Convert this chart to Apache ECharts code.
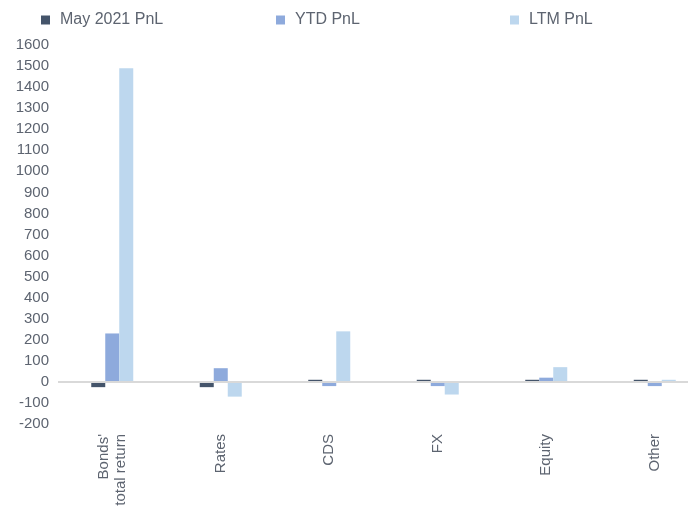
<!DOCTYPE html>
<html>
<head>
<meta charset="utf-8">
<script src="https://cdn.jsdelivr.net/npm/echarts@6/dist/echarts.min.js"></script>
<style>
  html, body { margin: 0; padding: 0; background: #fff; }
  #chart { width: 688px; height: 507px; }
</style>
</head>
<body>
<div id="chart"></div>
<script>
// categories and series
const categories = ["Bonds'\ntotal return", 'Rates', 'CDS', 'FX', 'Equity', 'Other'];
const mayPnl = [-25, -25, 10, 10, 10, 10];
const ytdPnl = [230, 65, -20, -20, 20, -20];
const ltmPnl = [1490, -70, 240, -60, 70, 10];
const seriesNames = ['May 2021 PnL', 'YTD PnL', 'LTM PnL'];
const colors = ['#44546a', '#8eaadc', '#bdd7ee'];

const textColor = '#5d6470';
const font = '"Liberation Sans", Arial, sans-serif';

const myChart = echarts.init(document.getElementById('chart'));

function legendAt(name, left) {
  return {
    data: [name],
    left: left,
    top: 7,
    itemWidth: 9,
    itemHeight: 9,
    icon: 'rect',
    itemGap: 0,
    textStyle: { color: textColor, fontSize: 16, fontFamily: font, padding: [0, 0, 0, 5] }
  };
}

myChart.setOption({
  animation: false,
  color: colors,
  legend: [
    legendAt(seriesNames[0], 36),
    legendAt(seriesNames[1], 271),
    legendAt(seriesNames[2], 505)
  ],
  grid: { left: 58, width: 651, top: 45, bottom: 83, outerBoundsMode: 'none', containLabel: false },
  xAxis: {
    type: 'category',
    data: categories,
    axisLine: { show: false, onZero: false },
    axisTick: { show: false },
    axisLabel: {
      rotate: 90,
      margin: 10,
      color: textColor,
      fontSize: 15,
      lineHeight: 17,
      fontFamily: font
    }
  },
  yAxis: {
    type: 'value',
    min: -200,
    max: 1600,
    interval: 100,
    splitLine: { show: false },
    axisLine: { show: false },
    axisTick: { show: false },
    axisLabel: {
      margin: 9,
      color: textColor,
      fontSize: 15,
      fontFamily: font,
      formatter: function (v) { return String(v); }
    }
  },
  series: [
    {
      name: seriesNames[0],
      type: 'bar',
      data: mayPnl,
      barWidth: 14,
      barGap: '0%',
      markLine: {
        silent: true,
        symbol: 'none',
        label: { show: false },
        lineStyle: { color: '#d9d9d9', width: 2, type: 'solid' },
        data: [{ yAxis: 0 }]
      }
    },
    { name: seriesNames[1], type: 'bar', data: ytdPnl, barWidth: 14, barGap: '0%' },
    { name: seriesNames[2], type: 'bar', data: ltmPnl, barWidth: 14, barGap: '0%' }
  ]
});
</script>
</body>
</html>
